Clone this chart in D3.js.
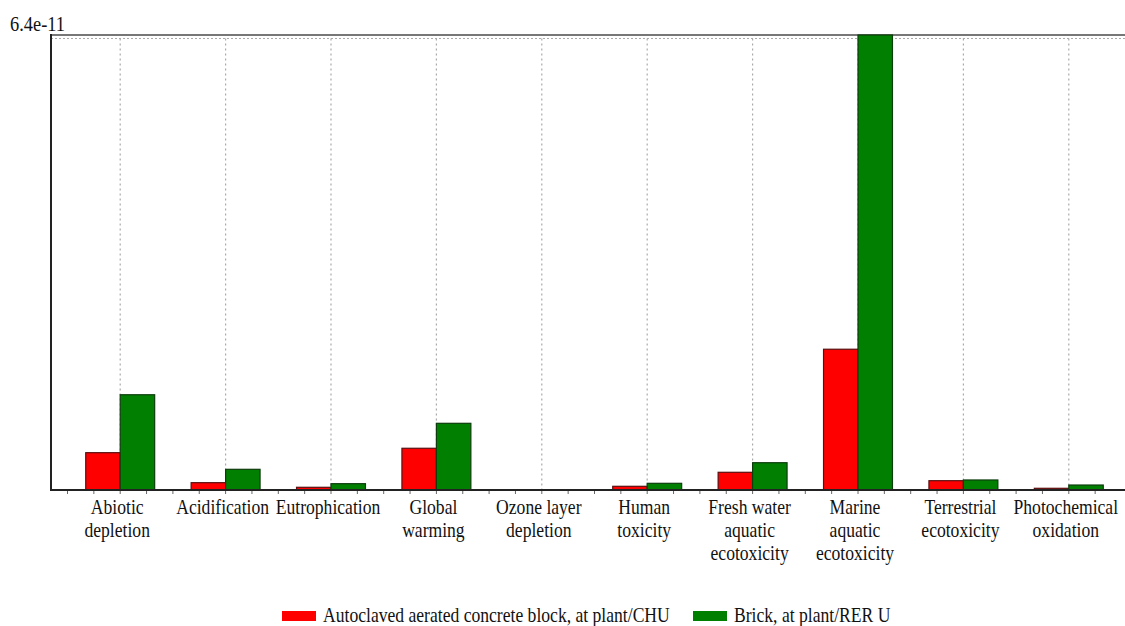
<!DOCTYPE html>
<html>
<head>
<meta charset="utf-8">
<script src="https://cdn.jsdelivr.net/npm/d3@7"></script>
<style>
  html, body { margin: 0; padding: 0; background: #fff; }
  svg { display: block; }
  text { font-family: "Liberation Serif", "Times New Roman", serif; fill: #111; }
</style>
</head>
<body>
<svg id="chart" width="1125" height="626"></svg>
<script>
// Impact categories (label lines per category)
const categories = [
  "Abiotic depletion", "Acidification", "Eutrophication", "Global warming",
  "Ozone layer depletion", "Human toxicity", "Fresh water aquatic ecotoxicity",
  "Marine aquatic ecotoxicity", "Terrestrial ecotoxicity", "Photochemical oxidation"
];
const categoryLines = [
  ["Abiotic", "depletion"], ["Acidification"], ["Eutrophication"], ["Global", "warming"],
  ["Ozone layer", "depletion"], ["Human", "toxicity"], ["Fresh water", "aquatic", "ecotoxicity"],
  ["Marine", "aquatic", "ecotoxicity"], ["Terrestrial", "ecotoxicity"], ["Photochemical", "oxidation"]
];
const seriesNames = ["Autoclaved aerated concrete block, at plant/CHU", "Brick, at plant/RER U"];
const aacValues   = [5.25e-12, 1.03e-12, 3.8e-13, 5.87e-12, 0, 5.2e-13, 2.49e-12, 1.98e-11, 1.31e-12, 2.4e-13];
const brickValues = [1.34e-11, 2.91e-12, 8.9e-13, 9.38e-12, 0, 9.4e-13, 3.84e-12, 6.4e-11, 1.41e-12, 7.0e-13];
const seriesColors = ["#ff0000", "#007f00"];
const seriesStrokes = ["#5a1010", "#0d3d0d"];
const yMax = 6.4e-11;
const yTopLabel = "6.4e-11";

const svg = d3.select("#chart");
const axisX = 51, plotTop = 35, plotBottom = 490, plotRight = 1125;

const x = d3.scaleBand().domain(categories).range([67.5, 1121.5]).paddingInner(0).paddingOuter(0);
const bw = x.bandwidth();
const xSub = d3.scaleBand().domain(seriesNames).range([bw * 0.173, bw * 0.827]).padding(0);
const y = d3.scaleLinear().domain([0, yMax]).range([plotBottom, plotTop]);

// dotted grid: top value line and vertical category lines
svg.append("line")
  .attr("x1", axisX).attr("x2", plotRight)
  .attr("y1", y(yMax) + 3.5).attr("y2", y(yMax) + 3.5)
  .attr("stroke", "#aaa").attr("stroke-width", 1.2).attr("stroke-dasharray", "2,2");
svg.append("g").selectAll("line").data(categories).join("line")
  .attr("x1", d => x(d) + bw / 2).attr("x2", d => x(d) + bw / 2)
  .attr("y1", y(yMax) + 3.5).attr("y2", plotBottom)
  .attr("stroke", "#aaa").attr("stroke-width", 1.2).attr("stroke-dasharray", "2,3");

// frame top
svg.append("line")
  .attr("x1", axisX).attr("x2", plotRight).attr("y1", plotTop).attr("y2", plotTop)
  .attr("stroke", "#777").attr("stroke-width", 2);

// bars
const rows = categories.map((c, i) => ({ c, vals: [aacValues[i], brickValues[i]] }));
const groups = svg.append("g").selectAll("g").data(rows).join("g")
  .attr("transform", d => `translate(${x(d.c)},0)`);
groups.selectAll("rect").data(d => d.vals.map((v, k) => ({ v, k })).filter(e => e.v > 0)).join("rect")
  .attr("x", e => xSub(seriesNames[e.k]))
  .attr("width", xSub.bandwidth())
  .attr("y", e => y(e.v))
  .attr("height", e => y(0) - y(e.v))
  .attr("fill", e => seriesColors[e.k])
  .attr("stroke", e => seriesStrokes[e.k])
  .attr("stroke-width", 1.2);

// minor ticks along the category axis (four per band)
const tickPos = [];
categories.forEach(c => { for (let k = 0; k < 4; k++) tickPos.push(x(c) + k * bw / 4); });
svg.append("g").selectAll("line").data(tickPos).join("line")
  .attr("x1", d => d).attr("x2", d => d).attr("y1", plotBottom).attr("y2", plotBottom + 4)
  .attr("stroke", "#666").attr("stroke-width", 1);

// axes lines
svg.append("line")
  .attr("x1", axisX).attr("x2", plotRight).attr("y1", plotBottom).attr("y2", plotBottom)
  .attr("stroke", "#222").attr("stroke-width", 2);
svg.append("line")
  .attr("x1", axisX).attr("x2", axisX).attr("y1", plotTop - 1).attr("y2", plotBottom + 1)
  .attr("stroke", "#222").attr("stroke-width", 2);

// value label at top of the y axis
svg.append("text")
  .attr("transform", "translate(10,31) scale(0.92,1)")
  .style("font-size", "20px")
  .text(yTopLabel);

// category labels
const labels = svg.append("g").selectAll("g").data(categories).join("g")
  .attr("transform", d => `translate(${x(d) + bw / 2 - 3},514)`);
labels.each(function (d, i) {
  d3.select(this).selectAll("text").data(categoryLines[i]).join("text")
    .attr("transform", (t, j) => `translate(0,${j * 23}) scale(0.88,1)`)
    .attr("text-anchor", "middle")
    .style("font-size", "20px")
    .text(t => t);
});

// legend
const legendX = [282, 693];
const lg = svg.append("g").selectAll("g").data(seriesNames).join("g")
  .attr("transform", (d, i) => `translate(${legendX[i]},611)`);
lg.append("rect").attr("width", 34).attr("height", 10)
  .attr("fill", (d, i) => seriesColors[i]);
lg.append("text")
  .attr("transform", "translate(41,10.5) scale(0.88,1)")
  .style("font-size", "20px")
  .text(d => d);
</script>
</body>
</html>
